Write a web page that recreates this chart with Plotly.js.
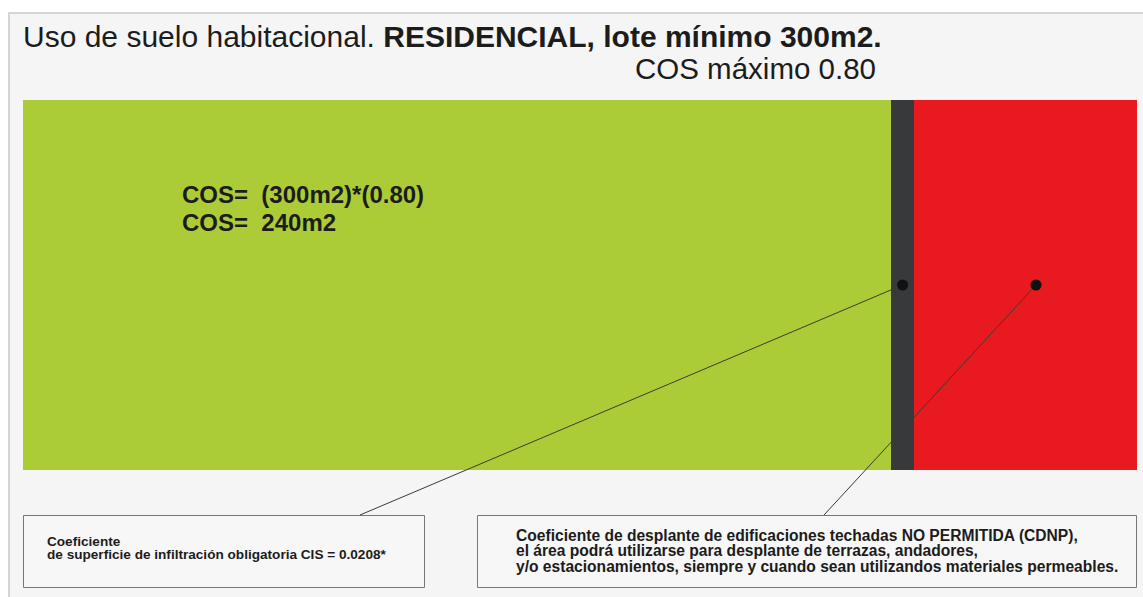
<!DOCTYPE html>
<html><head><meta charset="utf-8">
<script src="https://cdn.plot.ly/plotly-3.0.1.min.js"></script>
<style>html,body{margin:0;padding:0;background:#fff;}#chart{width:1143px;height:597px;}</style>
</head><body><div id="chart"></div>
<script>
// ---- data ----
const lotArea = 300;                       // m2
const segmentNames = ["COS (área de desplante)", "CIS", "CDNP"];
const segmentValues = [233.76, 6.24, 60];  // m2 of the 300 m2 lot
const segmentColors = ["#abcc36", "#38393b", "#e8191f"];
const rowLabel = ["Lote"];
const rowPos = [0];
const dotX = [236.88, 272.8];
const dotY = [0, 0];
const titleMain = "Uso de suelo habitacional. ";
const titleBold = "RESIDENCIAL, lote mínimo 300m2.";
const subtitle = "COS máximo 0.80";
const cosLines = ["COS=&nbsp;&nbsp;(300m2)*(0.80)", "COS=&nbsp;&nbsp;240m2"];
const cisLines = ["Coeficiente", "de superficie de infiltración obligatoria CIS = 0.0208*"];
const cdnpLines = [
  "Coeficiente de desplante de edificaciones techadas NO PERMITIDA (CDNP),",
  "el área podrá utilizarse para desplante de terrazas, andadores,",
  "y/o estacionamientos, siempre y cuando sean utilizandos materiales permeables."
];

// ---- layout geometry (pixels) ----
const W = 1143, H = 597;
const barL = 23, barR = 1137, barT = 100, barB = 470;
const sx = (barR - barL) / lotArea;
const sy = (barB - barT);
const xRange = [-barL / sx, lotArea + (W - barR) / sx];
const yRange = [-0.5 - (H - barB) / sy, 0.5 + barT / sy];
const px = p => p / W;
const py = p => 1 - p / H;
const dataY = p => 0.5 - (p - barT) / sy;
const dataX = p => (p - barL) / sx;

const sans = "'Liberation Sans', Arial, sans-serif";

const traces = segmentValues.map((v, i) => ({
  type: "bar", orientation: "h", y: rowPos, x: [v], name: segmentNames[i] + " – " + rowLabel[0],
  width: 1, marker: {color: segmentColors[i], line: {width: 0}}, hoverinfo: "skip"
}));
// leader lines from dots to callout boxes
const leaderEnds = [[dataX(360), dataY(515)], [dataX(824), dataY(515)]];
dotX.forEach((x, i) => {
  traces.push({type: "scatter", mode: "lines", x: [x, leaderEnds[i][0]], y: [dotY[i], leaderEnds[i][1]],
    line: {color: "#3a3d33", width: 1}, hoverinfo: "skip", cliponaxis: false});
});
traces.push({type: "scatter", mode: "markers", x: dotX, y: dotY,
  marker: {color: "#111", size: 11, line: {width: 0}}, hoverinfo: "skip"});

const ann = [];
function txt(text, x, y, size, xanchor) {
  ann.push({xref: "paper", yref: "paper", x: px(x), y: py(y), text: text, showarrow: false,
    xanchor: xanchor || "left", yanchor: "middle", align: "left",
    font: {size: size, family: sans, color: "#1c1c1c"}});
}
txt(titleMain + "<b>" + titleBold + "</b>", 21, 36, 30);
txt(subtitle, 878, 69, 29.5, "right");
cosLines.forEach((t, i) => txt("<b>" + t + "</b>", 180, 195 + i * 27, 24));
cisLines.forEach((t, i) => txt("<b>" + t + "</b>", 45, 541 + i * 13.5, 13.6));
cdnpLines.forEach((t, i) => txt("<b>" + t + "</b>", 514, 535 + i * 15.5, 15.6));

const shapes = [
  {type: "rect", xref: "paper", yref: "paper", x0: px(9), y0: py(13), x1: 1.02, y1: -0.02,
    fillcolor: "#f5f5f5", line: {color: "#c9c9c9", width: 1.5}, layer: "below"},
  {type: "rect", xref: "paper", yref: "paper", x0: px(23.5), y0: py(515.5), x1: px(424.5), y1: py(587.5),
    fillcolor: "#f7f7f7", line: {color: "#777", width: 1}, layer: "below"},
  {type: "rect", xref: "paper", yref: "paper", x0: px(477.5), y0: py(515.5), x1: px(1136.5), y1: py(587.5),
    fillcolor: "#f7f7f7", line: {color: "#777", width: 1}, layer: "below"}
];

Plotly.newPlot("chart", traces, {
  width: W, height: H, margin: {l: 0, r: 0, t: 0, b: 0},
  paper_bgcolor: "#ffffff", plot_bgcolor: "rgba(0,0,0,0)",
  barmode: "stack", bargap: 0, showlegend: false,
  xaxis: {type: "linear", range: xRange, visible: false, fixedrange: true},
  yaxis: {type: "linear", range: yRange, visible: false, fixedrange: true},
  annotations: ann, shapes: shapes
}, {staticPlot: true});
</script></body></html>
